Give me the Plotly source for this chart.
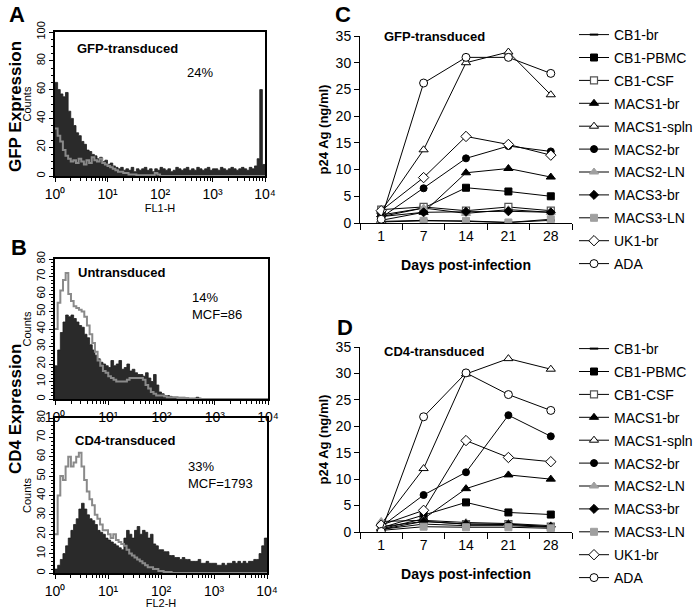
import numpy as np
import plotly.graph_objects as go

# ---------------- data ----------------
# Flow cytometry histograms: 80 bins of 0.05 decade from 10^0 to 10^4
A_gfp_sample = [65, 60, 57, 55, 58, 45, 40, 35, 30, 28,
                24, 22, 18, 17, 15, 14, 12, 13, 10, 11,
                8, 9, 7, 6, 5, 6, 4, 5, 4, 6,
                3, 5, 4, 5, 6, 4, 5, 3, 5, 4,
                6, 5, 4, 5, 3, 4, 6, 5, 4, 5,
                6, 4, 5, 4, 6, 5, 4, 5, 6, 4,
                5, 5, 4, 6, 5, 4, 5, 6, 5, 4,
                5, 6, 5, 4, 6, 5, 7, 12, 60, 8]
A_gfp_control = [33, 28, 24, 18, 14, 12, 10, 11, 9, 12,
                 10, 8, 11, 9, 13, 11, 10, 12, 9, 8,
                 7, 6, 5, 4, 3, 3, 2, 2, 1, 1,
                 1, 0.5, 0.5, 0.5, 0.5, 0.5, 0.5, 0.5, 2, 1,
                 0, 0, 0, 0, 0, 0, 0, 0, 0, 0,
                 0, 0, 0, 0, 0, 0, 0, 0, 0, 0,
                 0, 0, 0, 0, 0, 0, 0, 0, 0, 0,
                 0, 0, 0, 0, 0, 0, 0, 0, 0, 0]
B_untr_sample = [19, 28, 38, 44, 48, 47, 48, 46, 44, 42,
                 41, 37, 35, 31, 28, 25, 23, 21, 20, 19,
                 18, 22, 19, 20, 22, 17, 18, 20, 16, 17,
                 15, 14, 14, 13, 15, 12, 10, 14, 8, 4,
                 3, 2, 2, 1.5, 1, 1, 1, 1, 1, 0.5,
                 0.5, 0.5, 0.5, 1, 0.5, 0, 0, 0, 0, 0,
                 0, 0, 0, 0, 0, 0, 0, 0, 0, 0,
                 0, 0, 0, 0, 0, 0, 0, 0, 0, 0]
B_untr_control = [40, 55, 62, 68, 72, 60, 56, 53, 52, 51,
                  50, 47, 42, 37, 32, 27, 22, 19, 16, 15,
                  13, 12, 11, 10, 10, 10, 10, 11, 12, 12,
                  12, 12, 12, 11, 8, 6, 4, 3, 2, 2,
                  2, 1.5, 1, 1, 1, 1, 0.5, 0.5, 0.5, 0.5,
                  0, 0, 0, 0, 0, 0, 0, 0, 0, 0,
                  0, 0, 0, 0, 0, 0, 0, 0, 0, 0,
                  0, 0, 0, 0, 0, 0, 0, 0, 0, 0]
B_cd4_sample = [2, 4, 7, 10, 14, 18, 22, 25, 28, 33,
                36, 33, 30, 28, 27, 25, 22, 21, 20, 18,
                17, 16, 15, 14, 13, 12, 18, 22, 20, 18,
                22, 24, 20, 22, 21, 18, 20, 15, 14, 12,
                12, 11, 11, 9, 9, 8, 8, 7, 8, 7,
                7, 6, 6, 6, 7, 5, 5, 6, 5, 5,
                5, 4, 4, 5, 4, 5, 5, 6, 5, 6,
                5, 6, 5, 6, 6, 7, 7, 10, 14, 18]
B_cd4_control = [20, 40, 50, 48, 55, 60, 55, 57, 60, 62,
                 55, 48, 42, 38, 35, 30, 28, 25, 22, 22,
                 20, 18, 20, 17, 16, 15, 14, 12, 10, 9,
                 8, 7, 6, 5, 4, 3, 3, 2, 2, 1,
                 1, 0.5, 0.5, 0.5, 0, 0, 0, 0, 0, 0,
                 0, 0, 0, 0, 0, 0, 0, 0, 0, 0,
                 0, 0, 0, 0, 0, 0, 0, 0, 0, 0,
                 0, 0, 0, 0, 0, 0, 0, 0, 0, 0]
decade_labels = ["10⁰", "10¹", "10²", "10³", "10⁴"]

# p24 time courses
days = ["1", "7", "14", "21", "28"]
isolates = ["CB1-br", "CB1-PBMC", "CB1-CSF", "MACS1-br", "MACS1-spln", "MACS2-br",
            "MACS2-LN", "MACS3-br", "MACS3-LN", "UK1-br", "ADA"]
p24_gfp = {
    "CB1-br":     [0.3, 0.5, 0.3, 0.1, 0.5],
    "CB1-PBMC":   [1.2, 2.8, 6.6, 5.9, 5.0],
    "CB1-CSF":    [2.5, 3.0, 2.3, 3.0, 2.3],
    "MACS1-br":   [0.5, 2.0, 9.4, 10.2, 8.6],
    "MACS1-spln": [2.2, 13.7, 30.0, 32.0, 24.0],
    "MACS2-br":   [1.0, 6.5, 12.1, 14.4, 13.4],
    "MACS2-LN":   [1.5, 2.8, 1.8, 2.5, 2.0],
    "MACS3-br":   [1.2, 2.0, 2.1, 2.2, 2.0],
    "MACS3-LN":   [0.2, 0.4, 0.4, 0.1, 0.7],
    "UK1-br":     [2.3, 8.5, 16.2, 14.7, 12.7],
    "ADA":        [0.7, 26.2, 31.0, 31.0, 28.0],
}
p24_cd4 = {
    "CB1-br":     [0.5, 1.5, 1.2, 1.2, 0.9],
    "CB1-PBMC":   [0.8, 3.2, 5.6, 3.7, 3.3],
    "CB1-CSF":    [1.0, 2.0, 1.5, 1.5, 1.0],
    "MACS1-br":   [0.6, 2.5, 8.2, 10.8, 10.0],
    "MACS1-spln": [1.5, 12.0, 29.9, 32.8, 30.8],
    "MACS2-br":   [1.0, 7.0, 11.3, 22.1, 18.1],
    "MACS2-LN":   [2.0, 2.2, 1.8, 1.6, 1.2],
    "MACS3-br":   [0.5, 2.0, 1.5, 1.4, 1.0],
    "MACS3-LN":   [0.3, 1.0, 0.9, 0.9, 0.7],
    "UK1-br":     [1.3, 4.1, 17.3, 14.1, 13.3],
    "ADA":        [0.1, 21.8, 30.1, 26.0, 23.0],
}

# ---------------- styles ----------------
FONT = "Liberation Sans, Arial, sans-serif"
GRAY = "#a0a0a0"
styles = {
    "CB1-br":     dict(symbol="line-ew", size=6, color="black", lc="black", lw=2),
    "CB1-PBMC":   dict(symbol="square", size=7, color="black", lc="black", lw=1),
    "CB1-CSF":    dict(symbol="square", size=7, color="white", lc="#555555", lw=1.2),
    "MACS1-br":   dict(symbol="triangle-up", size=8, color="black", lc="black", lw=1),
    "MACS1-spln": dict(symbol="triangle-up", size=8, color="white", lc="black", lw=1),
    "MACS2-br":   dict(symbol="circle", size=7, color="black", lc="black", lw=1),
    "MACS2-LN":   dict(symbol="triangle-up", size=8, color=GRAY, lc=GRAY, lw=1),
    "MACS3-br":   dict(symbol="diamond", size=7, color="black", lc="black", lw=1),
    "MACS3-LN":   dict(symbol="square", size=7, color=GRAY, lc=GRAY, lw=1),
    "UK1-br":     dict(symbol="diamond", size=8, color="white", lc="black", lw=1),
    "ADA":        dict(symbol="circle", size=8, color="white", lc="black", lw=1),
}

W, H = 693, 609
def xd(a, b):
    return [a / W, b / W]
def yd(top, bottom):
    return [1 - bottom / H, 1 - top / H]

fig = go.Figure()

edges = np.linspace(0, 4, 81)
def hist_traces(sample, control, xa, ya):
    s = list(sample) + [sample[-1]]
    c = list(control) + [control[-1]]
    fig.add_trace(go.Scatter(x=edges, y=s, mode="lines", line=dict(shape="hv", color="#1e1e1e", width=0.8),
                             fill="tozeroy", fillcolor="#2a2a2a", xaxis=xa, yaxis=ya, showlegend=False,
                             hoverinfo="skip"))
    fig.add_trace(go.Scatter(x=edges, y=c, mode="lines", line=dict(shape="hv", color="#8a8a8a", width=2),
                             xaxis=xa, yaxis=ya, showlegend=False, hoverinfo="skip"))

hist_traces(A_gfp_sample, A_gfp_control, "x", "y")
hist_traces(B_untr_sample, B_untr_control, "x2", "y2")
hist_traces(B_cd4_sample, B_cd4_control, "x3", "y3")

for data, xa, ya, lg, tag in [(p24_gfp, "x4", "y4", "legend", "c"), (p24_cd4, "x5", "y5", "legend2", "d")]:
    for name in isolates:
        st = styles[name]
        fig.add_trace(go.Scatter(
            x=days, y=data[name], name=name, mode="lines+markers",
            line=dict(color="black", width=1),
            marker=dict(symbol=st["symbol"], size=st["size"], color=st["color"],
                        line=dict(color=st["lc"], width=st["lw"])),
            xaxis=xa, yaxis=ya, legend=lg, legendgroup=tag + name))

minor_vals = [float(np.log10(k) + d) for d in range(4) for k in range(2, 10)]

def hist_x(domain, anchor, title):
    return dict(domain=domain, anchor=anchor, automargin=False, range=[0, 4], tickmode="array",
                tickvals=[0, 1, 2, 3, 4], ticktext=decade_labels, ticks="outside", ticklen=4,
                tickcolor="black",
                minor=dict(tickmode="array", tickvals=minor_vals, ticks="outside", ticklen=3,
                           tickcolor="black"),
                showline=True, linecolor="black", linewidth=1.5, mirror=True, showgrid=False,
                zeroline=False, tickfont=dict(size=14, family=FONT, color="black"),
                title=dict(text=title, font=dict(size=11, family=FONT, color="black"), standoff=0))

def hist_y(domain, anchor, top, step, minor_step):
    return dict(domain=domain, anchor=anchor, automargin=False, range=[0, top], tickmode="linear",
                tick0=0, dtick=step, tickangle=-90, ticks="outside", ticklen=4, tickcolor="black",
                minor=dict(dtick=minor_step, ticks="outside", ticklen=2, tickcolor="black"),
                showline=True, linecolor="black", linewidth=1.5, mirror=True, showgrid=False,
                zeroline=False, tickfont=dict(size=11, family=FONT, color="black"),
                title=dict(text="Counts", font=dict(size=11, family=FONT, color="black"), standoff=1))

def p24_x(domain, anchor):
    return dict(domain=domain, anchor=anchor, automargin=False, type="category", categoryorder="array",
                categoryarray=days, range=[-0.5, 4.5], tickson="boundaries", ticks="outside", ticklen=6,
                tickcolor="black", showline=True, linecolor="black", linewidth=1, showgrid=False,
                zeroline=False, tickfont=dict(size=14, family=FONT, color="black"),
                title=dict(text="<b>Days post-infection</b>", font=dict(size=14, family=FONT, color="black"),
                           standoff=17))

def p24_y(domain, anchor):
    return dict(domain=domain, anchor=anchor, automargin=False, range=[0, 35], tickmode="linear", tick0=0,
                dtick=5, ticks="outside", ticklen=5, tickcolor="black", showline=True, linecolor="black",
                linewidth=1, showgrid=False, zeroline=False,
                tickfont=dict(size=14, family=FONT, color="black"),
                title=dict(text="<b>p24 Ag (ng/ml)</b>", font=dict(size=13, family=FONT, color="black"),
                           standoff=4))

leg_common = dict(xanchor="left", yanchor="top", bgcolor="rgba(0,0,0,0)", tracegroupgap=1.7,
                  font=dict(size=14, family=FONT, color="black"), itemwidth=30)
fig.update_layout(
    width=W, height=H, margin=dict(l=0, r=0, t=0, b=0, autoexpand=False),
    paper_bgcolor="white", plot_bgcolor="white",
    font=dict(family=FONT, color="black"),
    xaxis=hist_x(xd(55, 265), "y", "FL1-H"), yaxis=hist_y(yd(32, 176), "x", 100, 20, 5),
    xaxis2=hist_x(xd(55, 268), "y2", ""), yaxis2=hist_y(yd(259, 399), "x2", 80, 10, 2),
    xaxis3=hist_x(xd(55, 267), "y3", "FL2-H"), yaxis3=hist_y(yd(418, 573), "x3", 80, 10, 2),
    xaxis4=p24_x(xd(360, 572), "y4"), yaxis4=p24_y(yd(36, 223), "x4"),
    xaxis5=p24_x(xd(360, 572), "y5"), yaxis5=p24_y(yd(347, 532), "x5"),
    legend=dict(x=574 / W, y=1 - 19 / H, **leg_common),
    legend2=dict(x=574 / W, y=1 - 333 / H, **leg_common),
)

def ann(text, x, y, size, xanchor="left", angle=0, bold=False):
    fig.add_annotation(text=("<b>%s</b>" % text) if bold else text, x=x / W, y=1 - y / H,
                       xref="paper", yref="paper", xanchor=xanchor, yanchor="middle",
                       showarrow=False, textangle=angle,
                       font=dict(size=size, family=FONT, color="black"))

ann("A", 7, 15, 22, bold=True)
ann("B", 9, 247, 22, bold=True)
ann("C", 333, 15, 22, bold=True)
ann("D", 335, 327, 22, bold=True)
ann("GFP Expression", 15, 107, 17, xanchor="center", angle=-90, bold=True)
ann("CD4 Expression", 15, 409, 17, xanchor="center", angle=-90, bold=True)
ann("GFP-transduced", 75, 48, 13, bold=True)
ann("24%", 185, 73, 13)
ann("Untransduced", 76, 272, 13, bold=True)
ann("14%", 190, 297, 13)
ann("MCF=86", 190, 314, 13)
ann("CD4-transduced", 73, 440, 13, bold=True)
ann("33%", 186, 466, 13)
ann("MCF=1793", 186, 483, 13)
ann("GFP-transduced", 382, 36, 13, bold=True)
ann("CD4-transduced", 382, 351, 13, bold=True)

fig.write_html("out.html", config={"displayModeBar": False},
               post_script="document.body.style.margin='0px';document.body.style.overflow='hidden';")
